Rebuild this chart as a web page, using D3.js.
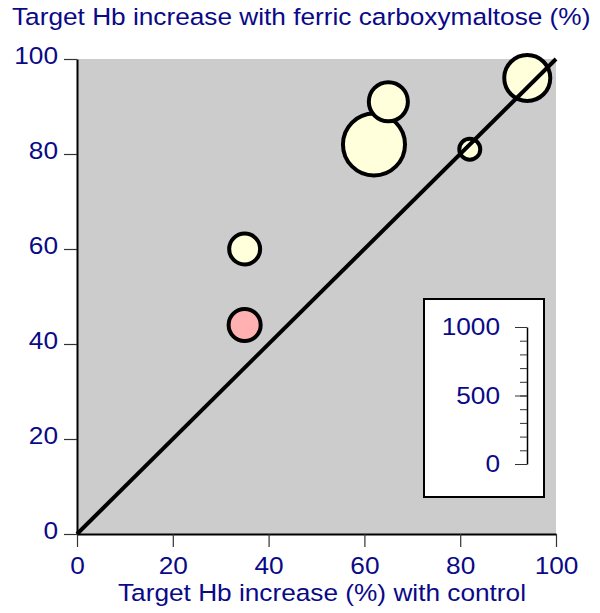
<!DOCTYPE html>
<html>
<head>
<meta charset="utf-8">
<script src="https://cdn.jsdelivr.net/npm/d3@7"></script>
<style>
  html, body { margin: 0; padding: 0; background: #ffffff; }
  svg { display: block; }
  text { font-family: "Liberation Sans", Arial, Helvetica, sans-serif; fill: #0a0a88; }
</style>
</head>
<body>
<svg id="chart" width="600" height="613"></svg>
<script>
// ---- data ----
const controlPct = [35, 35, 62, 65, 82, 94];
const fcmPct     = [60, 44, 82, 91, 81, 96];
const sampleSize = [226, 234, 453, 285, 153, 336];
const groupName  = ["A", "B", "A", "A", "A", "A"];
const xTicks = [0, 20, 40, 60, 80, 100];
const yTicks = [0, 20, 40, 60, 80, 100];
const sizeTicks = [0, 500, 1000];
const sizeMinorTicks = [0, 100, 200, 300, 400, 500, 600, 700, 800, 900, 1000];
const titleText = "Target Hb increase with ferric carboxymaltose (%)";
const xLabelText = "Target Hb increase (%) with control";

const svg = d3.select("#chart");
const x = d3.scaleLinear().domain([0, 100]).range([77, 556]);
const y = d3.scaleLinear().domain([0, 100]).range([534, 59]);
const rScale = d3.scaleLinear().domain([0, 1000]).range([0, 68.5]);
const color = d3.scaleOrdinal().domain(["A", "B"]).range(["#ffffdc", "#ffb0b0"]);
const textColor = "#0a0a88";
const fontSize = 24.5;
const stretch = 1.07;
const ff = "Liberation Sans, Arial, sans-serif";

// background
svg.append("rect")
  .attr("x", x(0)).attr("y", y(100))
  .attr("width", x(100) - x(0)).attr("height", y(0) - y(100))
  .attr("fill", "#cccccc");

// axes
const yAxis = svg.append("g").attr("transform", `translate(${x(0)},0)`)
  .call(d3.axisLeft(y).tickValues(yTicks).tickSize(13).tickSizeOuter(0).tickPadding(6));
const xAxis = svg.append("g").attr("transform", `translate(0,${y(0)})`)
  .call(d3.axisBottom(x).tickValues(xTicks).tickSize(13).tickSizeOuter(0).tickPadding(5));

[xAxis, yAxis].forEach(g => {
  g.select(".domain").attr("stroke", "#000").attr("stroke-width", 2);
  g.selectAll(".tick line").attr("stroke", "#333").attr("stroke-width", 1.2);
  g.selectAll(".tick text").attr("fill", textColor).attr("font-size", fontSize)
    .attr("font-family", ff);
});
yAxis.selectAll(".tick text").attr("dy", "0.2em");
xAxis.selectAll(".tick text").attr("dy", "0.9em");

// bubbles (largest first)
const pts = controlPct.map((c, i) => ({ c, f: fcmPct[i], n: sampleSize[i], g: groupName[i] }))
  .sort((a, b) => b.n - a.n);
svg.append("g").selectAll("circle").data(pts).join("circle")
  .attr("cx", d => x(d.c)).attr("cy", d => y(d.f))
  .attr("r", d => rScale(d.n))
  .attr("fill", d => color(d.g))
  .attr("stroke", "#000").attr("stroke-width", 4);

// identity line
svg.append("line")
  .attr("x1", x(0)).attr("y1", y(0)).attr("x2", x(100)).attr("y2", y(100))
  .attr("stroke", "#000").attr("stroke-width", 4);

// size legend
svg.append("rect").attr("x", 424).attr("y", 299).attr("width", 120).attr("height", 198)
  .attr("fill", "#fff").attr("stroke", "#000").attr("stroke-width", 2);
const sLeg = d3.scaleLinear().domain([0, 1000]).range([464, 327]);
const lg = svg.append("g").attr("transform", "translate(527,0)");
lg.call(d3.axisLeft(sLeg).tickValues(sizeMinorTicks).tickSize(7).tickSizeOuter(0).tickFormat(""));
lg.select(".domain").attr("stroke", "#000").attr("stroke-width", 1.5);
lg.selectAll(".tick line").attr("stroke", "#333");
const lg2 = svg.append("g").attr("transform", "translate(527,0)");
lg2.call(d3.axisLeft(sLeg).tickValues(sizeTicks).tickSize(12).tickSizeOuter(0)
  .tickPadding(15).tickFormat(d3.format("d")));
lg2.select(".domain").remove();
lg2.selectAll(".tick line").attr("stroke", "#333");
lg2.selectAll(".tick text").attr("fill", textColor).attr("font-size", fontSize)
  .attr("font-family", ff);

// titles
svg.append("text").attr("class", "title").attr("x", 12).attr("y", 25)
  .attr("font-size", fontSize).text(titleText);
svg.append("text").attr("class", "xlabel").attr("x", 322).attr("y", 601)
  .attr("text-anchor", "middle").attr("font-size", fontSize).text(xLabelText);

// horizontal stretch of glyphs
svg.selectAll("text").each(function () {
  const w = this.getComputedTextLength();
  if (w > 0) d3.select(this).attr("textLength", w * stretch).attr("lengthAdjust", "spacingAndGlyphs");
});
</script>
</body>
</html>
